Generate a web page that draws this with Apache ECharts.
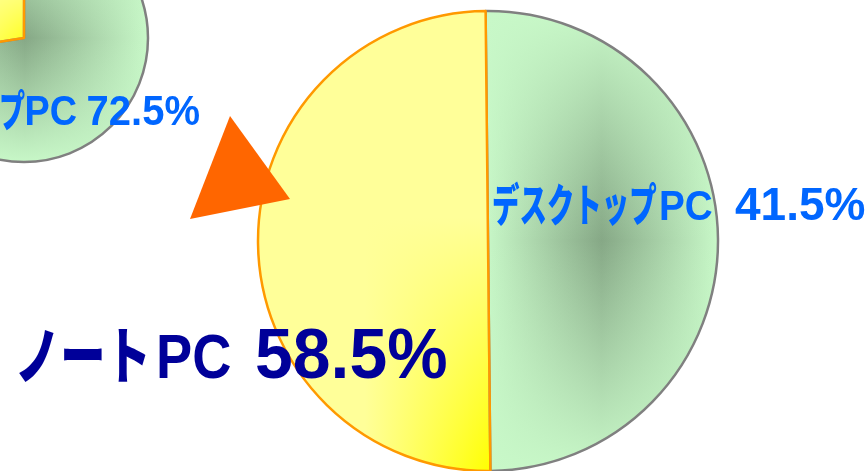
<!DOCTYPE html>
<html><head><meta charset="utf-8">
<script src="https://cdn.jsdelivr.net/npm/echarts@6/dist/echarts.min.js"></script>
<style>html,body{margin:0;padding:0;background:#fff}#c{width:866px;height:471px}</style>
</head><body><div id="c"></div>
<script>
// ---- data ----
const categories = ['デスクトップPC', 'ノートPC'];
const sharePrev = [72.5, 27.5];   // small (previous) pie
const shareNow = [41.5, 58.5];    // large (current) pie

// ---- styles ----
const KANA_FONT = '"Noto Sans CJK JP", sans-serif';
const LATIN_FONT = '"Liberation Sans", Arial, sans-serif';
const greenLight = '#C8F8C8', greenDark = '#86A886';
const yellowPale = '#FFFF99', yellowDeep = '#FFFF00';

function lin(x2, y2, stops) {
  return { type: 'linear', x: 0, y: 0, x2: x2, y2: y2,
    colorStops: stops.map(s => ({ offset: s[0], color: s[1] })) };
}
const greenBase = lin(1, 0, [[0, greenLight], [0.5, greenDark], [1, greenLight]]);
const greenOver = lin(0, 1, [[0, 'rgba(200,248,200,1)'], [0.5, 'rgba(200,248,200,0)'], [1, 'rgba(200,248,200,1)']]);
const yellowBase = lin(1, 0, [[0, yellowPale], [0.46, yellowPale], [1, yellowDeep]]);
const yellowOver = lin(0, 1, [[0, 'rgba(255,255,153,1)'], [0.45, 'rgba(255,255,153,1)'], [1, 'rgba(255,255,153,0)']]);

function pieData(values, over) {
  return values.map((v, i) => ({
    value: v, name: categories[i],
    itemStyle: over
      ? { color: i === 0 ? greenOver : yellowOver,
          borderColor: i === 0 ? '#808080' : '#FF9900', borderWidth: 2.5 }
      : { color: i === 0 ? greenBase : yellowBase, borderWidth: 0 }
  }));
}
function pieSeries(values, center, radius, over, extra) {
  return Object.assign({
    type: 'pie', center: center, radius: radius, startAngle: 90, clockwise: true,
    silent: true, animation: false, label: { show: false }, labelLine: { show: false },
    emphasis: { disabled: true }, data: pieData(values, over)
  }, extra || {});
}

// label = category name (kana part + latin part) + value; each part drawn as text
function labelGraphics(name, value, cfg) {
  const m = name.match(/^(.*?)([A-Za-z]+)$/);
  const parts = [
    [m[1], KANA_FONT, cfg.kana, '900 '],
    [m[2], LATIN_FONT, cfg.latin, 'bold '],
    [value.toFixed(1) + '%', LATIN_FONT, cfg.num, 'bold ']
  ];
  return parts.map(p => ({
    type: 'text', z: 110, x: p[2].x, y: p[2].y, scaleX: p[2].sx,
    style: { text: p[0], fill: cfg.color, font: p[3] + p[2].size + 'px ' + p[1],
             textAlign: p[2].align, textVerticalAlign: 'middle' }
  }));
}

const chart = echarts.init(document.getElementById('c'), null, { renderer: 'canvas' });
chart.setOption({
  backgroundColor: '#ffffff',
  series: [
    pieSeries(sharePrev, [24, 38], 124, false),
    pieSeries(sharePrev, [24, 38], 124, true),
    pieSeries(shareNow, [488, 241], 230, false, { startAngle: 90.6, minAngle: 180 }),
    pieSeries(shareNow, [488, 241], 230, true, { startAngle: 90.6, minAngle: 180 })
  ],
  graphic: [
    { type: 'polygon', z: 100, shape: { points: [[190, 219], [230, 116], [290, 199]] },
      style: { fill: '#FF6600' } }
  ].concat(
    labelGraphics(categories[0], sharePrev[0], {
      color: '#0066FF',
      kana: { x: 25, y: 111, size: 43, sx: 0.6, align: 'right' },
      latin: { x: 77, y: 113, size: 42, sx: 0.9, align: 'right' },
      num: { x: 200, y: 113, size: 43, sx: 0.93, align: 'right' }
    }),
    labelGraphics(categories[0], shareNow[0], {
      color: '#0066FF',
      kana: { x: 492, y: 205, size: 45, sx: 0.61, align: 'left' },
      latin: { x: 659, y: 208, size: 43, sx: 0.9, align: 'left' },
      num: { x: 735, y: 207, size: 46, sx: 1.0, align: 'left' }
    }),
    labelGraphics(categories[1], shareNow[1], {
      color: '#000099',
      kana: { x: 15, y: 355, size: 62, sx: 0.73, align: 'left' },
      latin: { x: 156, y: 361, size: 63, sx: 0.86, align: 'left' },
      num: { x: 255, y: 359, size: 70, sx: 0.97, align: 'left' }
    })
  )
});
</script>
</body></html>
